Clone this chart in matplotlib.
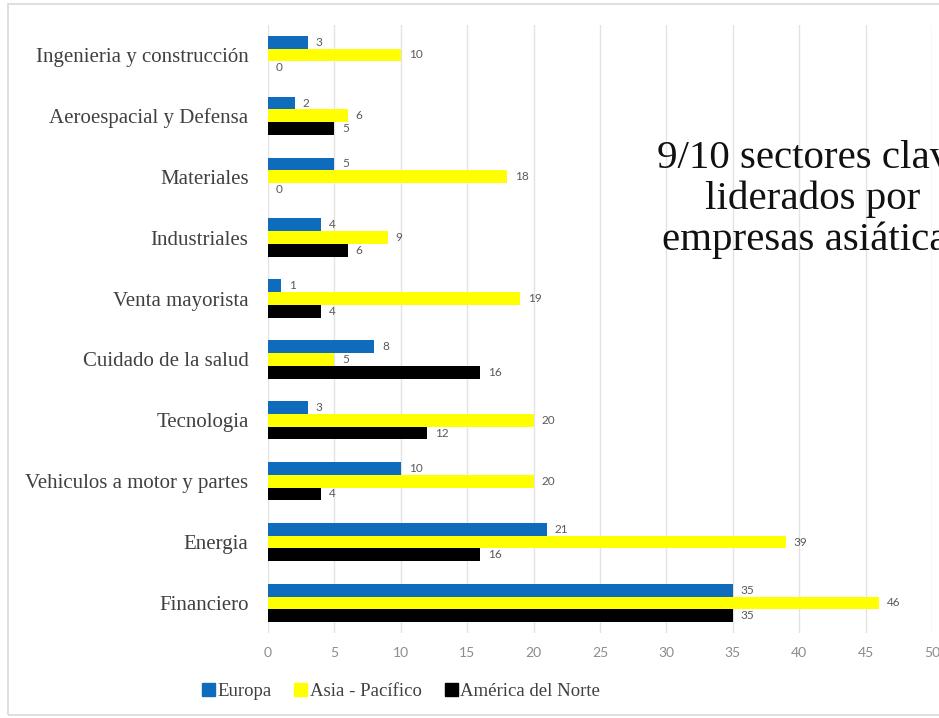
import matplotlib.pyplot as plt
import numpy as np
from matplotlib.patches import Patch, Rectangle

sectores = ['Financiero', 'Energia', 'Vehiculos a motor y partes', 'Tecnologia',
            'Cuidado de la salud', 'Venta mayorista', 'Industriales', 'Materiales',
            'Aeroespacial y Defensa', 'Ingenieria y construcción']
europa = [35, 21, 10, 3, 8, 1, 4, 5, 2, 3]
asia_pacifico = [46, 39, 20, 20, 5, 19, 9, 18, 6, 10]
america_norte = [35, 16, 4, 12, 16, 4, 6, 0, 5, 0]

series = [('Europa', europa, '#0f6cbd'),
          ('Asia - Pacífico', asia_pacifico, '#ffff00'),
          ('América del Norte', america_norte, '#000000')]

fig = plt.figure(figsize=(9.39, 7.18), dpi=100)
fig.patch.set_facecolor('white')
ax = fig.add_axes([0.2854, 0.1178, 0.7071, 0.848])

y = np.arange(len(sectores))
h = 0.21
offsets = [h, 0, -h]
for (nombre, vals, color), off in zip(series, offsets):
    bars = ax.barh(y + off, vals, height=h, color=color, label=nombre, zorder=3)
    for b, v in zip(bars, vals):
        ax.text(b.get_width() + 0.6, b.get_y() + b.get_height() / 2, str(v),
                va='center', ha='left', fontsize=8.5, color='#595959',
                family='Lato', zorder=4)

ax.set_xlim(0, 50)
ax.set_ylim(-0.5, len(sectores) - 0.5)
ax.set_xticks(range(0, 51, 5))
ax.set_yticks(y)
ax.set_yticklabels(sectores, family='Liberation Serif', fontsize=15, color='#404040')
ax.tick_params(axis='x', labelsize=10, labelcolor='#8c8c8c', length=0, pad=10)
ax.tick_params(axis='y', length=0, pad=14)
for lab in ax.get_xticklabels():
    lab.set_family('Lato')
ax.grid(axis='x', color='#e3e3e3', linewidth=1, zorder=0)
for s in ax.spines.values():
    s.set_visible(False)

handles = [Patch(color=c, label=n) for n, _, c in series]
fig.legend(handles=handles, loc='center', bbox_to_anchor=(0.427, 0.037), ncol=3,
           frameon=False, handlelength=0.7, handleheight=0.7, handletextpad=0.15,
           columnspacing=1.2, prop={'family': 'Liberation Serif', 'size': 13.5},
           labelcolor='#404040')

fig.text(0.866, 0.722, '9/10 sectores clave\nliderados por\nempresas asiáticas',
         ha='center', va='center', fontsize=29.5, family='Liberation Serif',
         color='#111111', linespacing=1.12)

# marco gris claro alrededor del gráfico
fig.add_artist(Rectangle((0.009, 0.004), 1.2, 0.99, transform=fig.transFigure,
                         fill=False, edgecolor='#d9d9d9', linewidth=1.2))

fig.savefig('out.png', dpi=100)
